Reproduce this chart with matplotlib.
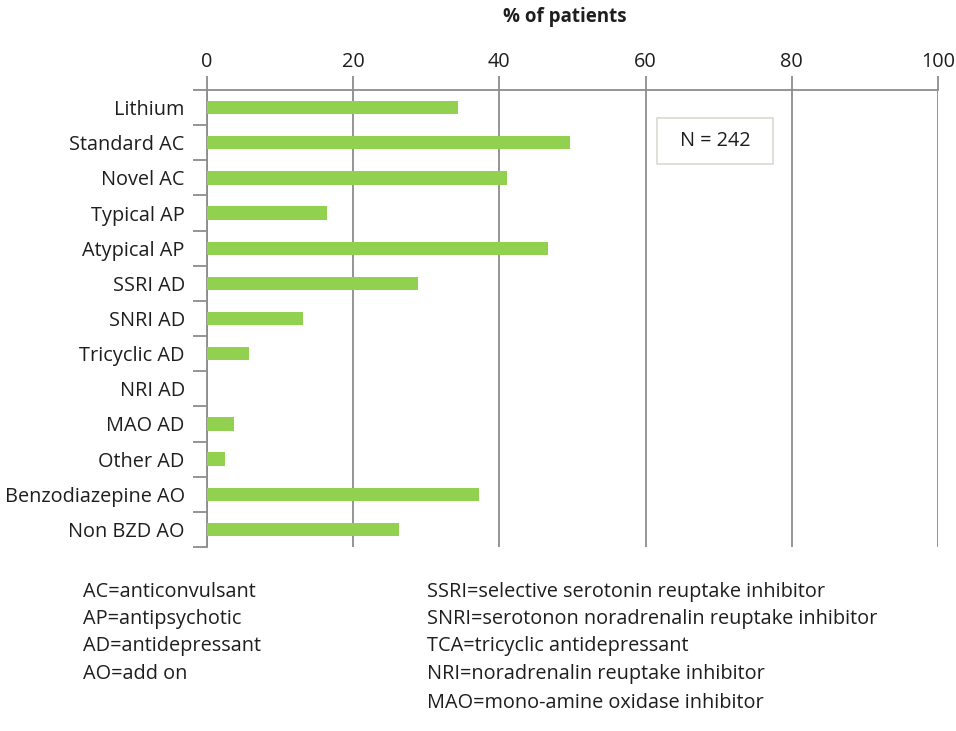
import matplotlib
matplotlib.use("Agg")
import matplotlib.pyplot as plt
from matplotlib.patches import Rectangle

plt.rcParams['font.family'] = ['Open Sans', 'DejaVu Sans']

categories = ["Lithium", "Standard AC", "Novel AC", "Typical AP", "Atypical AP",
              "SSRI AD", "SNRI AD", "Tricyclic AD", "NRI AD", "MAO AD",
              "Other AD", "Benzodiazepine AO", "Non BZD AO"]
values = [34.4, 49.7, 41.0, 16.4, 46.7, 28.9, 13.2, 5.8, 0.0, 3.7, 2.5, 37.2, 26.3]
xticks = [0, 20, 40, 60, 80, 100]
left_notes = ["AC=anticonvulsant", "AP=antipsychotic", "AD=antidepressant", "AO=add on"]
right_notes = ["SSRI=selective serotonin reuptake inhibitor",
               "SNRI=serotonon noradrenalin reuptake inhibitor",
               "TCA=tricyclic antidepressant",
               "NRI=noradrenalin reuptake inhibitor",
               "MAO=mono-amine oxidase inhibitor"]

FS = 14.3
W, H = 956, 731
fig = plt.figure(figsize=(W/100, H/100), dpi=100)
ax = fig.add_axes([207/W, 1-547/H, (938-207)/W, (547-90)/H])

n = len(categories)
ypos = list(range(n))
ax.barh(ypos, values, height=0.38, color="#92D050", zorder=3)
ax.set_ylim(n-0.5, -0.5)
ax.set_xlim(0, 100)

gcol = "#8c8c8c"
tcol = "#1e1e1e"
ax.xaxis.tick_top()
ax.set_xticks(xticks)
ax.set_xticklabels([str(t) for t in xticks], fontsize=FS, color=tcol)
ax.tick_params(axis='x', length=10, width=1.3, color=gcol, pad=3, top=True, bottom=False)
ax.grid(axis='x', color=gcol, linewidth=1.3, zorder=1)

ax.set_yticks([i - 0.5 for i in range(n+1)], minor=False)
ax.set_yticklabels([])
ax.set_yticks(ypos, minor=True)
ax.set_yticklabels(categories, minor=True, fontsize=FS, color=tcol)
ax.tick_params(axis='y', which='major', length=10, width=1.3, color=gcol)
ax.tick_params(axis='y', which='minor', length=0, pad=16)

for s in ['right', 'bottom']:
    ax.spines[s].set_visible(False)
for s in ['top', 'left']:
    ax.spines[s].set_color(gcol)
    ax.spines[s].set_linewidth(1.3)

fig.text(565/W, 1-17/H, "% of patients", ha='center', va='center',
         fontsize=13.5, fontweight='bold', color=tcol)

# N box
fig.patches.append(Rectangle((657/W, 1-164/H), (773-657)/W, (164-118)/H,
                             transform=fig.transFigure, facecolor='white',
                             edgecolor='#dadad2', linewidth=1.2, zorder=5))
fig.text(715/W, 1-141/H, "N = 242", ha='center', va='center', fontsize=FS, color=tcol, zorder=6)

ys = [592, 619, 646, 674, 703]
for i, t in enumerate(left_notes):
    fig.text(83/W, 1-ys[i]/H, t, ha='left', va='center', fontsize=FS, color=tcol)
for i, t in enumerate(right_notes):
    fig.text(427/W, 1-ys[i]/H, t, ha='left', va='center', fontsize=FS, color=tcol)

fig.savefig("out.png", dpi=100, facecolor='white')
